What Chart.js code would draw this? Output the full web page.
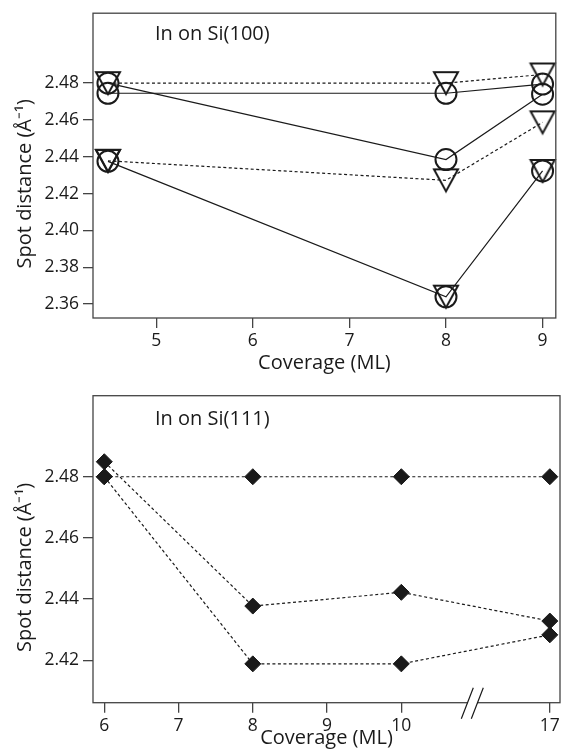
<!DOCTYPE html>
<html>
<head>
<meta charset="utf-8">
<script src="https://cdn.jsdelivr.net/npm/chart.js@4.4.0/dist/chart.umd.min.js"></script>
<style>
  body { margin: 0; background: #fff; }
  canvas { display: block; }
</style>
</head>
<body>
<canvas id="si100" width="569" height="378"></canvas>
<canvas id="si111" width="569" height="378"></canvas>
<script>
// In on Si(100): circles joined by solid lines, triangles by dashed lines
const coverage100 = [4.5, 8, 9];
const circA = [2.4745, 2.4745, 2.4795];
const circB = [2.4800, 2.4385, 2.4740];
const circC = [2.4375, 2.3639, 2.4323];
const triD = [2.4800, 2.4800, 2.4847];
const triE = [2.4378, 2.4272, 2.4587];
const triF = [2.4378, 2.3640, 2.4323];
const xTicks100 = [5, 6, 7, 8, 9];
const yTicks100 = [2.36, 2.38, 2.40, 2.42, 2.44, 2.46, 2.48];

// In on Si(111): filled diamonds, dashed lines
const coverage111 = [6, 8, 10, 17];
const dia1 = [2.4800, 2.4800, 2.4800, 2.4800];
const dia2 = [2.4849, 2.4377, 2.4422, 2.4328];
const dia3 = [2.4800, 2.4188, 2.4188, 2.4283];
const xTicks111 = [6, 7, 8, 9, 10, 17];
const yTicks111 = [2.42, 2.44, 2.46, 2.48];

// broken x axis on Si(111): values past 10 ML are pulled left by 5
const breakAt = 10, breakGap = 5;
const brokenX = v => v > breakAt ? v - breakGap : v;

const ink = '#1a1a1a';
const axisColor = '#444';
const family = 'Open Sans';
const tickFont = { family: family, size: 17.5 };
const labelFont = { family: family, size: 20 };
const yTitle = 'Spot distance (Å⁻¹)' + '\u00a0'.repeat(7);

function downTriangle(w, h) {
    const pad = 3;
    const c = document.createElement('canvas');
    c.width = w + 2 * pad;
    c.height = h + 2 * pad;
    const g = c.getContext('2d');
    g.strokeStyle = ink;
    g.lineWidth = 2;
    g.beginPath();
    g.moveTo(pad, pad);
    g.lineTo(pad + w, pad);
    g.lineTo(pad + w / 2, pad + h);
    g.closePath();
    g.stroke();
    return c;
}
const triMark = downTriangle(24, 22);

const framePlugin = {
    id: 'frame',
    afterDraw(chart, args, opts) {
        const { ctx, chartArea: a } = chart;
        ctx.save();
        ctx.strokeStyle = axisColor;
        ctx.lineWidth = 1.3;
        ctx.strokeRect(a.left, a.top, a.right - a.left, a.bottom - a.top);
        if (opts.axisBreak) {
            const x = chart.scales.x.getPixelForValue(opts.axisBreak);
            const y = a.bottom;
            ctx.fillStyle = '#fff';
            ctx.fillRect(x - 5, y - 2, 10, 4);
            ctx.strokeStyle = ink;
            ctx.lineWidth = 1.2;
            ctx.beginPath();
            [-5, 5].forEach(dx => {
                ctx.moveTo(x + dx - 6, y + 16);
                ctx.lineTo(x + dx + 6, y - 15);
            });
            ctx.stroke();
        }
        ctx.fillStyle = ink;
        ctx.font = `${labelFont.size}px "${family}"`;
        ctx.textBaseline = 'middle';
        ctx.fillText(opts.text, a.left + 62, a.top + opts.dy);
        ctx.restore();
    }
};

function noPadding(s) {
    s.paddingLeft = 0;
    s.paddingRight = 0;
    s.paddingTop = 0;
    s.paddingBottom = 0;
}

function axes(o) {
    const grid = { drawOnChartArea: false, drawTicks: true, tickLength: 10, color: axisColor, lineWidth: 1.3 };
    return {
        x: {
            type: 'linear',
            min: o.xMin,
            max: o.xMax,
            afterBuildTicks: s => { s.ticks = o.xTicks.map(v => ({ value: brokenX(v) })); },
            afterFit: s => { s.height = o.xHeight; noPadding(s); },
            grid: grid,
            border: { display: false },
            ticks: {
                color: ink, font: tickFont, padding: 3, maxRotation: 0,
                callback: v => String(v > breakAt ? v + breakGap : v)
            },
            title: {
                display: true, text: 'Coverage (ML)', color: ink,
                font: labelFont, padding: { top: 0, bottom: o.titlePad }
            }
        },
        y: {
            type: 'linear',
            min: o.yMin,
            max: o.yMax,
            afterBuildTicks: s => { s.ticks = o.yTicks.map(v => ({ value: v })); },
            afterFit: s => { s.width = 93; noPadding(s); },
            grid: grid,
            border: { display: false },
            ticks: { color: ink, font: tickFont, padding: 4, callback: v => v.toFixed(2) },
            title: {
                display: true, text: yTitle, color: ink,
                font: labelFont, padding: { top: 13, bottom: 0 }
            }
        }
    };
}

function series(xs, ys, style) {
    return Object.assign({
        data: xs.map((x, i) => ({ x: brokenX(x), y: ys[i] })),
        borderColor: ink,
        borderWidth: 1.2,
        pointBorderColor: ink,
        pointBackgroundColor: 'transparent',
        tension: 0,
        clip: false
    }, style);
}

const circle = { pointStyle: 'circle', pointRadius: 10.5, pointBorderWidth: 2 };
const tri = { pointStyle: triMark, pointRadius: 12 };
const dashed = { borderDash: [3, 2.5] };

const base = {
    responsive: false,
    animation: false,
    events: [],
    plugins: { legend: { display: false }, tooltip: { enabled: false } }
};

new Chart(document.getElementById('si100'), {
    type: 'line',
    data: {
        datasets: [
            series(coverage100, circA, circle),
            series(coverage100, circB, circle),
            series(coverage100, circC, circle),
            series(coverage100, triD, { ...tri, ...dashed }),
            series(coverage100, triE, { ...tri, ...dashed }),
            series(coverage100, triF, { ...tri, showLine: false })
        ]
    },
    options: {
        ...base,
        layout: { padding: { top: 13, right: 3, left: 0, bottom: 0 } },
        scales: axes({
            xMin: 4.345, xMax: 9.137, xTicks: xTicks100, xHeight: 60, titlePad: 3,
            yMin: 2.3524, yMax: 2.518, yTicks: yTicks100
        }),
        plugins: { ...base.plugins, frame: { text: 'In on Si(100)', dy: 21 } }
    },
    plugins: [framePlugin]
});

const diamond = {
    ...dashed,
    pointStyle: 'rectRot', pointRadius: 8, pointBorderWidth: 1,
    pointBackgroundColor: ink
};

new Chart(document.getElementById('si111'), {
    type: 'line',
    data: {
        datasets: [
            series(coverage111, dia1, diamond),
            series(coverage111, dia2, diamond),
            series(coverage111, dia3, diamond)
        ]
    },
    options: {
        ...base,
        layout: { padding: { top: 17.7, right: 3, left: 0, bottom: 0 } },
        scales: axes({
            xMin: 5.848, xMax: 12.137, xTicks: xTicks111, xHeight: 53.3, titlePad: 6,
            yMin: 2.4061, yMax: 2.5065, yTicks: yTicks111
        }),
        plugins: { ...base.plugins, frame: { text: 'In on Si(111)', dy: 23.5, axisBreak: 10.956 } }
    },
    plugins: [framePlugin]
});
</script>
</body>
</html>
